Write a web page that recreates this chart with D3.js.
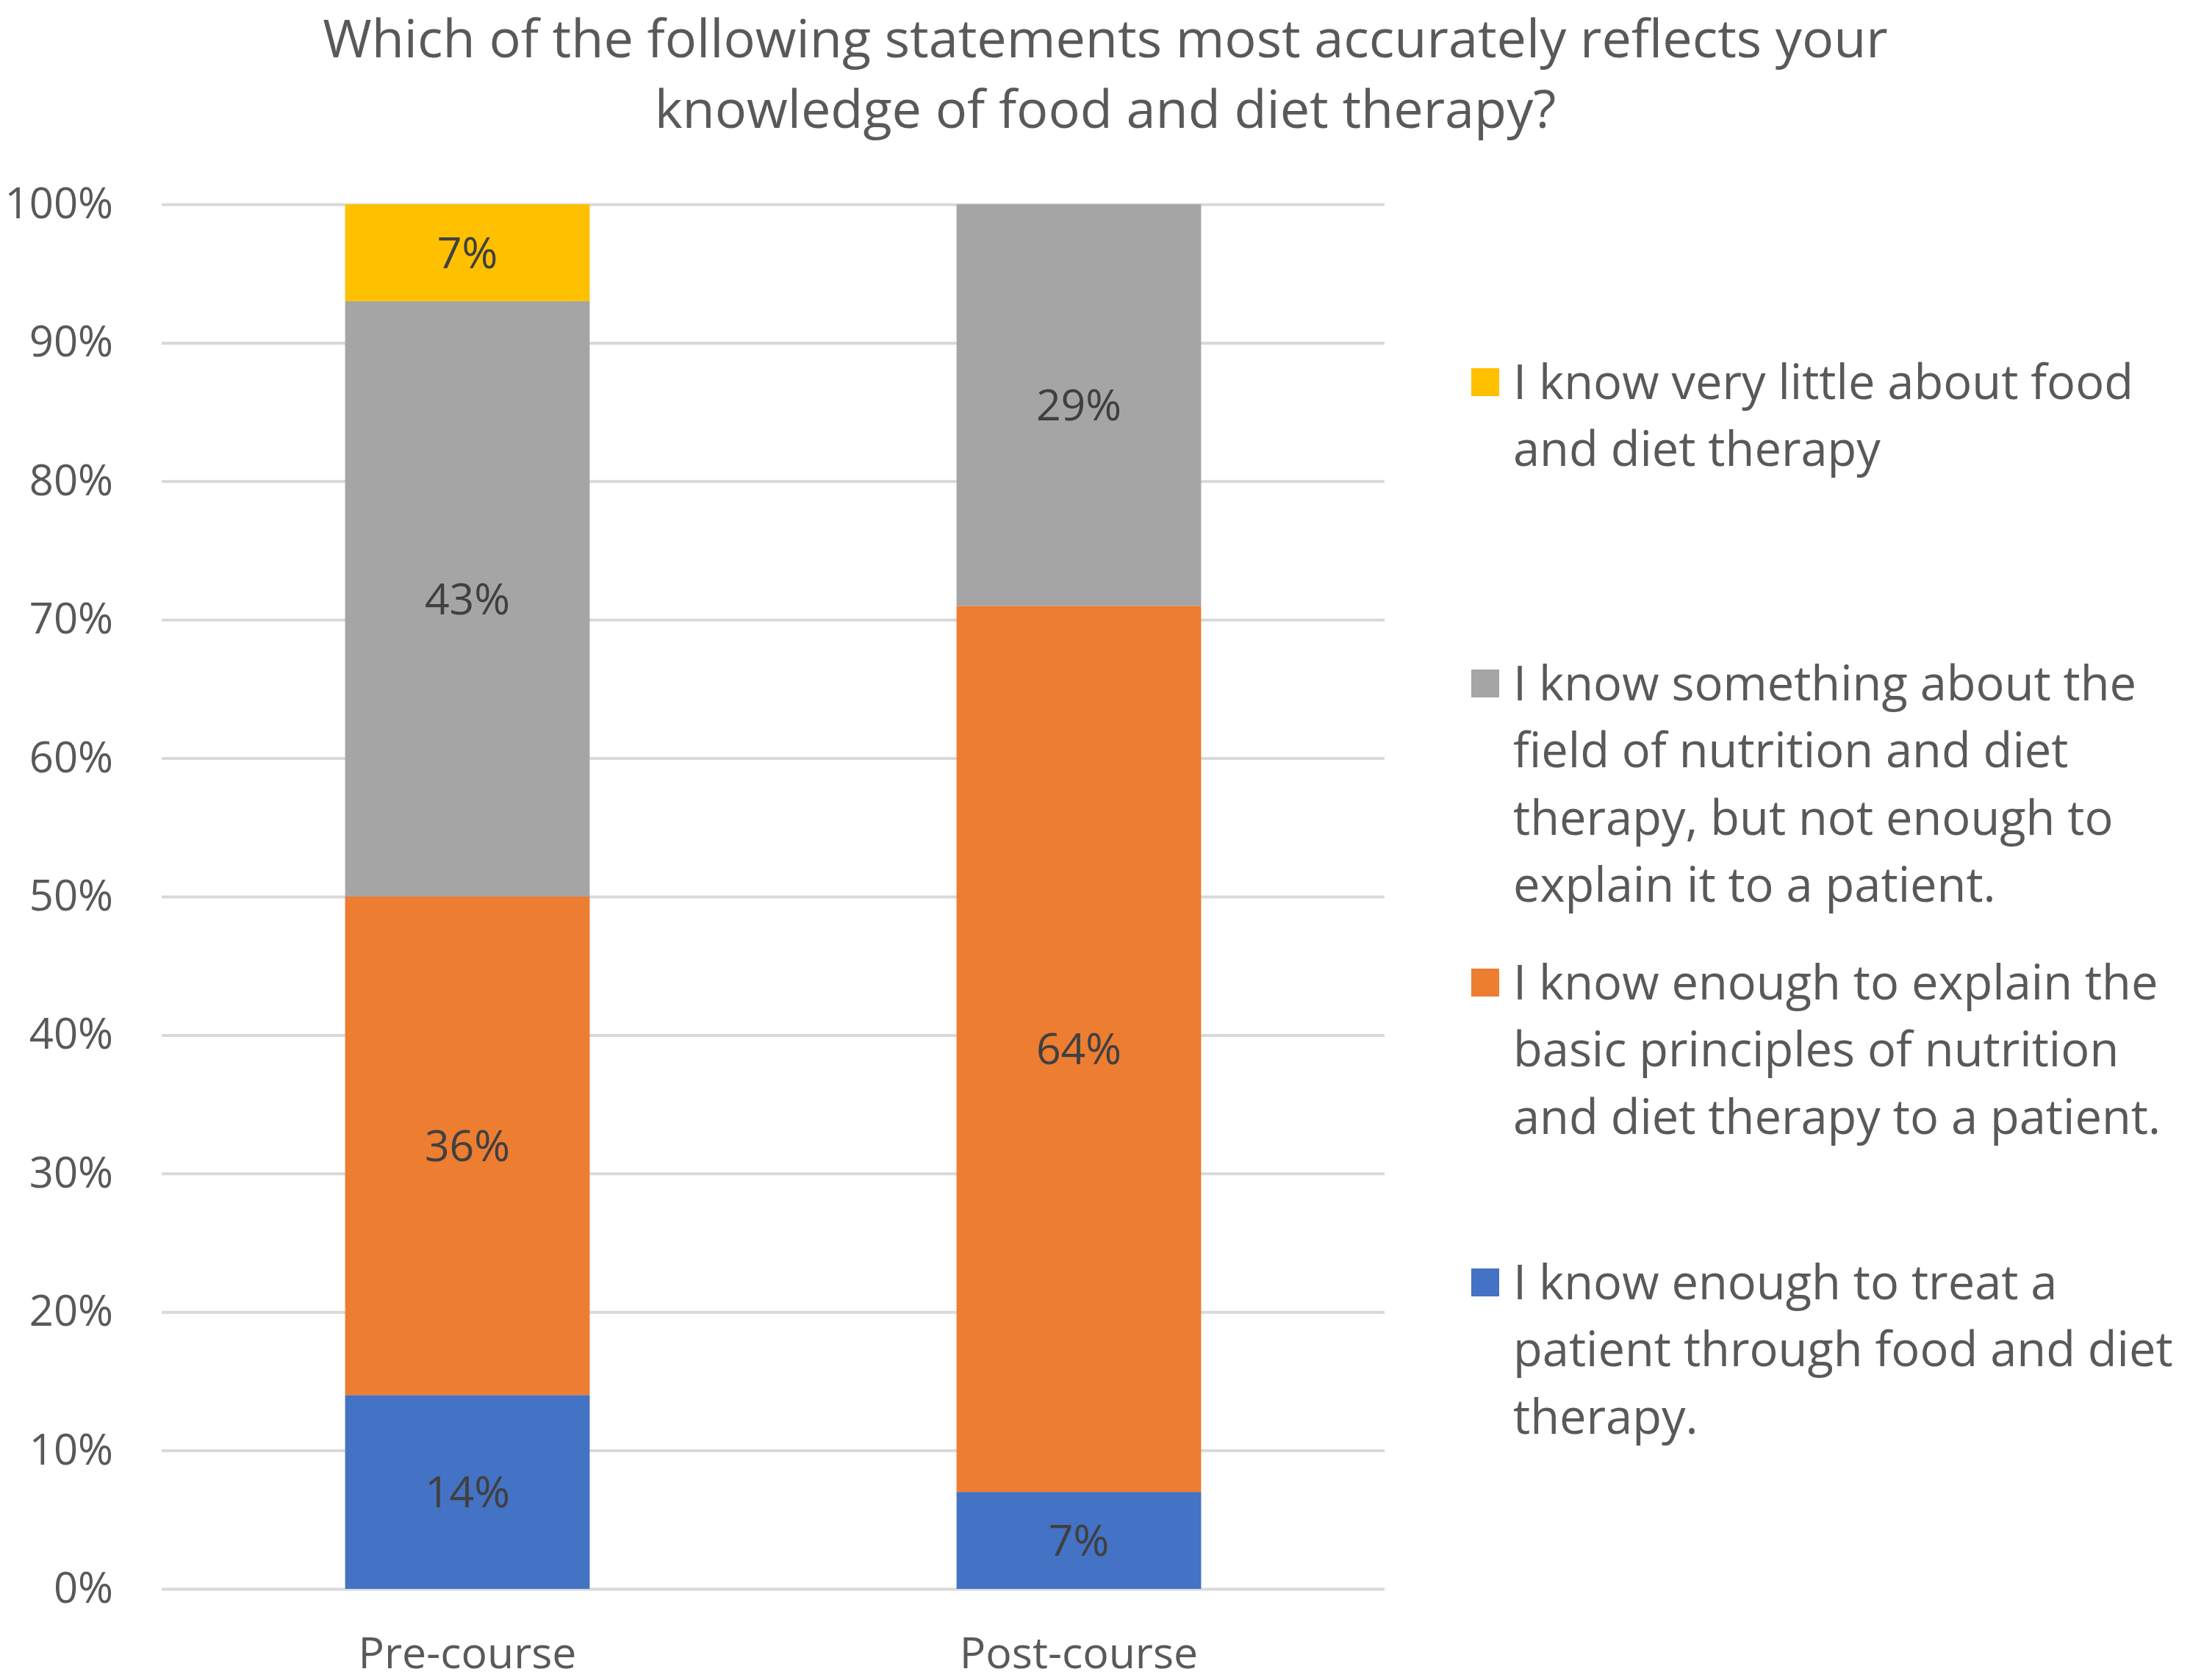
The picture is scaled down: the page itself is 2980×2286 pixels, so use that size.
<!DOCTYPE html>
<html>
<head>
<meta charset="utf-8">
<script src="https://cdn.jsdelivr.net/npm/d3@7"></script>
<style>
  body { margin: 0; background: #fff; }
  text { font-family: "Open Sans", sans-serif; }
</style>
</head>
<body>
<div id="chart"></div>
<script>
var categories = ['Pre-course', 'Post-course'];
var seriesNames = [
  'I know enough to treat a patient through food and diet therapy.',
  'I know enough to explain the basic principles of nutrition and diet therapy to a patient.',
  'I know something about the field of nutrition and diet therapy, but not enough to explain it to a patient.',
  'I know very little about food and diet therapy'
];
// values in % per series, ordered like categories
var treatValues = [14, 7];
var explainValues = [36, 64];
var somethingValues = [43, 29];
var littleValues = [7, 0];
var yTicks = [0, 10, 20, 30, 40, 50, 60, 70, 80, 90, 100];
var colors = ['#4472C4', '#ED7D31', '#A5A5A5', '#FFC000'];
var titleLines = ['Which of the following statements most accurately reflects your',
  'knowledge of food and diet therapy?'];
// legend entries are wrapped the same way the picture wraps them
var legendLines = [
  ['I know very little about food', 'and diet therapy'],
  ['I know something about the', 'field of nutrition and diet', 'therapy, but not enough to', 'explain it to a patient.'],
  ['I know enough to explain the', 'basic principles of nutrition', 'and diet therapy to a patient.'],
  ['I know enough to treat a', 'patient through food and diet', 'therapy.']
];
var legendColors = ['#FFC000', '#A5A5A5', '#ED7D31', '#4472C4'];

var svgWidth = 2980, svgHeight = 2286;
var margin = { top: 278, left: 220, right: 1096, bottom: 124 };
var width = svgWidth - margin.left - margin.right;
var height = svgHeight - margin.top - margin.bottom;

var svg = d3.select('#chart')
  .append('svg')
  .attr('width', svgWidth)
  .attr('height', svgHeight);

// title
svg.append('g')
  .selectAll('text')
  .data(titleLines)
  .enter()
  .append('text')
  .attr('x', 1504)
  .attr('y', function (d, i) { return 78 + i * 96; })
  .attr('text-anchor', 'middle')
  .attr('fill', '#595959')
  .attr('font-size', 72)
  .text(function (d) { return d; });

var g = svg.append('g')
  .attr('transform', 'translate(' + margin.left + ',' + margin.top + ')');

var x = d3.scaleBand().domain(categories).range([0, width]).paddingInner(0.6).paddingOuter(0.3);
var y = d3.scaleLinear().domain([0, 100]).range([height, 0]);

var table = categories.map(function (c, i) {
  return { cat: c, s0: treatValues[i], s1: explainValues[i], s2: somethingValues[i], s3: littleValues[i] };
});
var stack = d3.stack().keys(['s0', 's1', 's2', 's3'])(table);

// gridlines
g.append('g')
  .attr('class', 'grid')
  .call(d3.axisLeft(y).tickValues(yTicks).tickSize(-width).tickFormat(''))
  .call(function (a) {
    a.select('.domain').remove();
    a.selectAll('line').attr('stroke', '#d9d9d9').attr('stroke-width', 4);
  });

// y labels
g.append('g')
  .attr('class', 'y-axis')
  .call(d3.axisLeft(y).tickValues(yTicks).tickSize(0).tickPadding(66).tickFormat(function (d) { return d + '%'; }))
  .call(function (a) {
    a.select('.domain').remove();
    a.selectAll('text').attr('fill', '#595959').attr('font-size', 58).attr('font-family', '"Open Sans", sans-serif');
  });

// x labels
g.append('g')
  .attr('class', 'x-axis')
  .attr('transform', 'translate(0,' + height + ')')
  .call(d3.axisBottom(x).tickSize(0).tickPadding(66))
  .call(function (a) {
    a.select('.domain').remove();
    a.selectAll('text').attr('fill', '#595959').attr('font-size', 59).attr('font-family', '"Open Sans", sans-serif');
  });

// bars
var layers = g.selectAll('.layer')
  .data(stack)
  .enter()
  .append('g')
  .attr('class', 'layer')
  .attr('fill', function (d, i) { return colors[i]; });

layers.selectAll('rect')
  .data(function (d) { return d; })
  .enter()
  .append('rect')
  .attr('x', function (d) { return x(d.data.cat); })
  .attr('y', function (d) { return y(d[1]); })
  .attr('width', x.bandwidth())
  .attr('height', function (d) { return y(d[0]) - y(d[1]); });

layers.selectAll('.label')
  .data(function (d) { return d.filter(function (p) { return p[1] - p[0] > 0; }); })
  .enter()
  .append('text')
  .attr('class', 'label')
  .attr('x', function (d) { return x(d.data.cat) + x.bandwidth() / 2; })
  .attr('y', function (d) { return (y(d[0]) + y(d[1])) / 2; })
  .attr('dy', '0.35em')
  .attr('text-anchor', 'middle')
  .attr('fill', '#404040')
  .attr('font-size', 59)
  .text(function (d) { return Math.round(d[1] - d[0]) + '%'; });

// legend
var starts = [520, 930, 1337, 1745];
var legend = svg.append('g').attr('class', 'legend');
legendLines.forEach(function (lines, i) {
  var item = legend.append('g');
  item.append('rect')
    .attr('x', 2002)
    .attr('y', starts[i] - 19)
    .attr('width', 38)
    .attr('height', 38)
    .attr('fill', legendColors[i]);
  item.selectAll('text')
    .data(lines)
    .enter()
    .append('text')
    .attr('x', 2059)
    .attr('y', function (d, j) { return starts[i] + j * 91.5; })
    .attr('dy', '0.35em')
    .attr('fill', '#595959')
    .attr('font-size', 65)
    .text(function (d) { return d; });
});
</script>
</body>
</html>
